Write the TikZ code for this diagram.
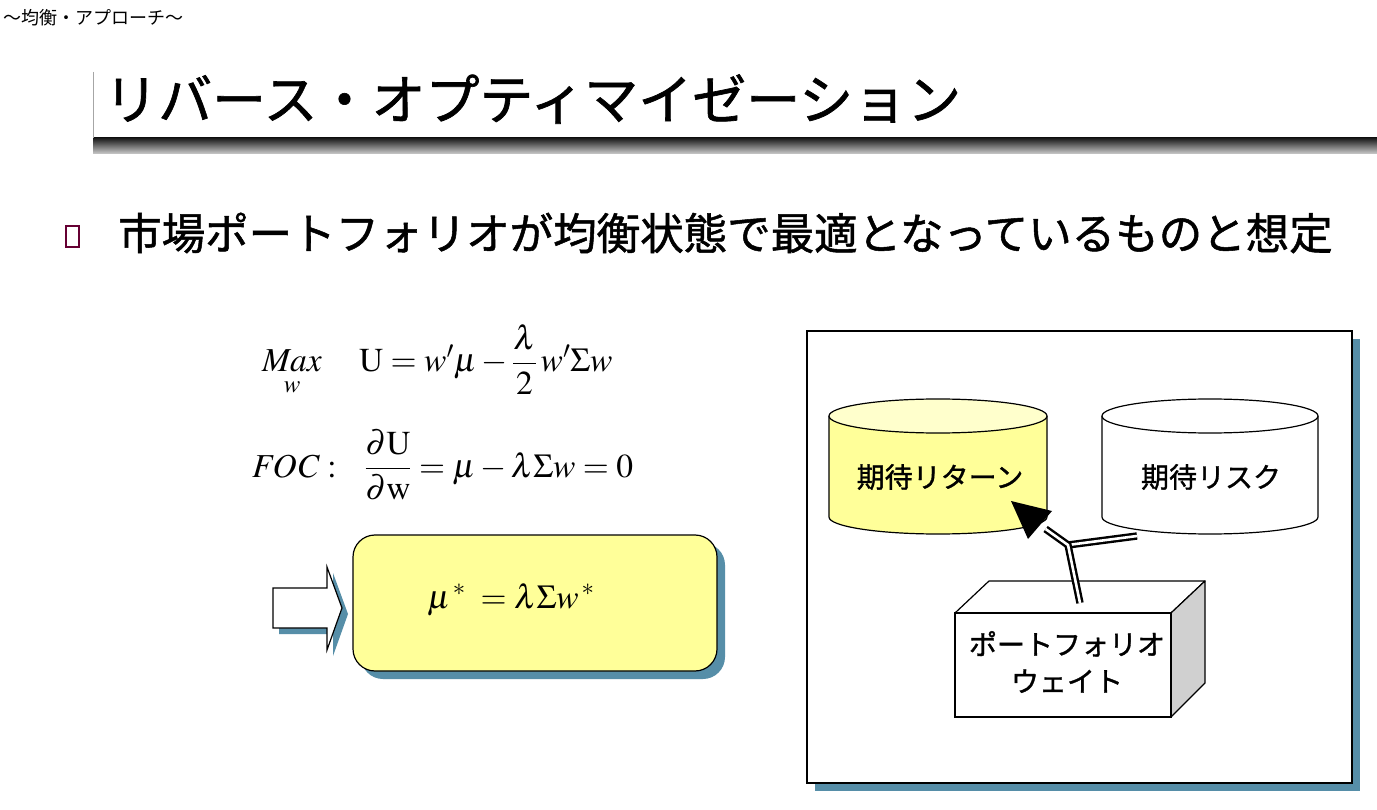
\documentclass[tikz,border=0pt]{standalone}
\usepackage{mathptmx}
\usepackage[no-math]{fontspec}
\newfontfamily\jp{Noto Sans CJK JP}
\newfontfamily\jpb[FakeBold=1.2]{Noto Sans CJK JP}
\usetikzlibrary{shadows,calc}
\definecolor{sb}{RGB}{86,142,168}
\definecolor{yfill}{RGB}{255,255,153}
\definecolor{ytop}{RGB}{255,255,204}
\definecolor{sidegray}{RGB}{208,208,208}
\definecolor{bulletc}{RGB}{102,0,51}
\tikzset{
  jptext/.style={font=\jp\fontsize{#1}{#1}\selectfont, inner sep=0pt},
  jpbtext/.style={font=\jpb\fontsize{#1}{#1}\selectfont, inner sep=0pt},
  mathtext/.style={font=\fontsize{33.5}{40}\selectfont, inner sep=0pt},
  outline/.style={draw=black, line width=1.2pt},
  myshadow/.style={drop shadow={shadow xshift=#1, shadow yshift=-#1, opacity=1, fill=sb}},
  dbl/.style={draw=black, line width=2.4pt, double=white, double distance=2.6pt},
}
\begin{document}
\begin{tikzpicture}[x=1pt,y=-1pt]
\useasboundingbox (0,0) rectangle (1377,810);
\fill[white] (0,0) rectangle (1377,810);

% header
\node[jptext=18, anchor=west] (hdr) at (3,18) {～均衡・アプローチ～};

% title bar
\shade[top color=black!90, bottom color=black!20] (93,138) rectangle (1377,154);
\draw[black!35, line width=1pt] (93,72) -- (93,138);
\node[jpbtext=54, anchor=west] (title) at (104,99) {リバース・オプティマイゼーション};

% bullet
\node[draw=bulletc, line width=1.6pt, minimum width=13pt, minimum height=21pt, inner sep=0pt] (bul) at (72.5,236.5) {};
\node[jpbtext=43.5, anchor=west] (btext) at (118,233) {市場ポートフォリオが均衡状態で最適となっているものと想定};

% equations
\node[mathtext, anchor=base west] (eq1) at (262,372)
  {$\displaystyle \mathop{\mathit{Max}}\limits_{w}\quad \mathrm{U}=w'\mu-\frac{\lambda}{2}\,w'\Sigma w$};
\node[mathtext, anchor=base west] (eq2) at (252,477)
  {$\displaystyle \mathit{FOC}:\ \ \frac{\partial \mathrm{U}}{\partial \mathrm{w}}=\mu-\lambda\Sigma w=0$};

% block arrow
\draw[outline, fill=white, myshadow=6pt]
  (273,588) -- (327,588) -- (327,567) -- (342,608) -- (327,650) -- (327,628) -- (273,628) -- cycle;

% result box
\node[outline, fill=yfill, rounded corners=22pt, minimum width=364pt, minimum height=136pt, myshadow=8pt] (resbox) at (535,603) {};
\node[mathtext, anchor=base west] (eq3) at (427,608) {$\mu^{\,*}\;=\lambda\Sigma w^{\,*}$};

% right panel
\node[outline, fill=white, minimum width=545pt, minimum height=452pt, myshadow=8pt] (panel) at (1079.5,557) {};

% yellow cylinder
\fill[yfill] (829,416) -- (829,517) arc[start angle=180, end angle=360, x radius=109pt, y radius=17pt] -- (1047,416) -- cycle;
\draw[outline] (829,416) -- (829,517) arc[start angle=180, end angle=360, x radius=109pt, y radius=17pt] -- (1047,416);
\draw[outline, fill=ytop] (938,416) ellipse[x radius=109pt, y radius=17pt];
\node[jpbtext=28] (ret) at (940,477) {期待リターン};

% white cylinder
\fill[white] (1102,416) -- (1102,517) arc[start angle=180, end angle=360, x radius=108pt, y radius=17pt] -- (1318,416) -- cycle;
\draw[outline] (1102,416) -- (1102,517) arc[start angle=180, end angle=360, x radius=108pt, y radius=17pt] -- (1318,416);
\draw[outline, fill=white] (1210,416) ellipse[x radius=108pt, y radius=17pt];
\node[jpbtext=28] (risk) at (1211,477) {期待リスク};

% 3D box
\draw[outline, fill=white, line join=round] (955,613) -- (989,581) -- (1205,581) -- (1171,613) -- cycle;
\draw[outline, fill=sidegray, line join=round] (1171,613) -- (1205,581) -- (1205,683) -- (1171,717) -- cycle;
\node[outline, fill=white, minimum width=216pt, minimum height=104pt, inner sep=0pt] (pwbox) at (1063,665) {};
\node[font=\jpb\fontsize{28}{37}\selectfont, align=center, inner sep=0pt] (pw) at (1067,662) {ポートフォリオ\\ウェイト};

% connector
\coordinate (pwtop) at (1080,603);
\coordinate (jn) at (1068,545);
\coordinate (riskend) at (1137,536);
\coordinate (retbase) at (1040,525);
\coordinate (rettip) at (1011,501);
\coordinate (hb1) at (1052,511);
\coordinate (hb2) at (1028,539);
\draw[dbl] (jn) -- (riskend);
\draw[dbl, line join=miter] (pwtop) -- (jn) -- ($(retbase)!0.2!(jn)$);
\fill[black] (rettip) -- (hb1) -- (hb2) -- cycle;
\end{tikzpicture}
\end{document}
